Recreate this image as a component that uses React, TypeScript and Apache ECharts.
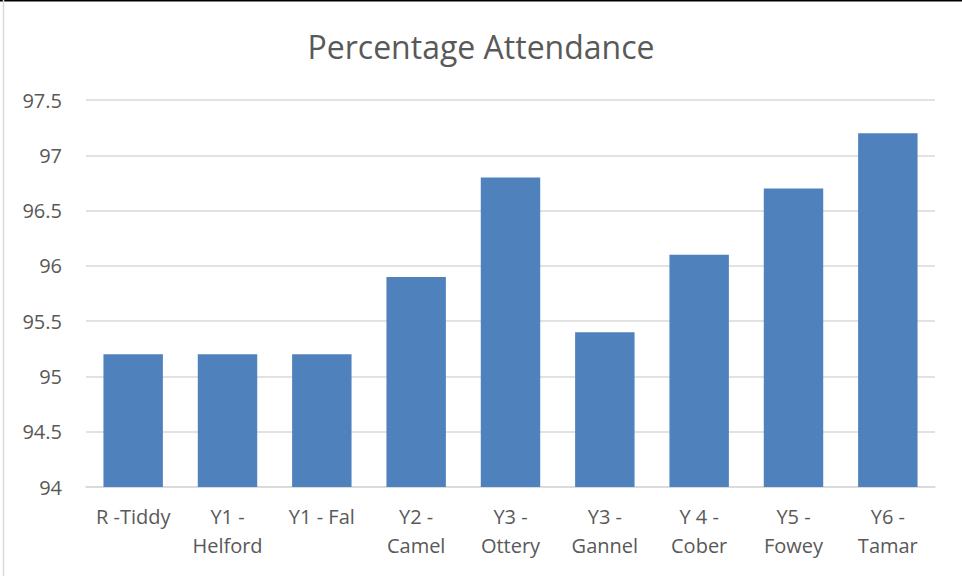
import React, { useEffect, useRef } from "react";
import * as echarts from "echarts";

const categories = [
  "R -Tiddy",
  "Y1 - Helford",
  "Y1 - Fal",
  "Y2 - Camel",
  "Y3 - Ottery",
  "Y3 - Gannel",
  "Y 4 - Cober",
  "Y5 - Fowey",
  "Y6 - Tamar",
];
const attendance = [95.2, 95.2, 95.2, 95.9, 96.8, 95.4, 96.1, 96.7, 97.2];
const yMin = 94;
const yMax = 97.5;
const yStep = 0.5;

export default function App() {
  const ref = useRef<HTMLDivElement>(null);
  useEffect(() => {
    if (!ref.current) return;
    const chart = echarts.init(ref.current, undefined, { renderer: "svg" });
    const font = "'Open Sans', 'Liberation Sans', sans-serif";
    chart.setOption({
      animation: false,
      backgroundColor: "#ffffff",
      title: {
        text: "Percentage Attendance",
        left: "center",
        top: 25,
        textStyle: { fontFamily: font, fontSize: 32, fontWeight: "normal", color: "#595959" },
      },
      grid: { left: 86, right: 27, top: 100, bottom: 89, containLabel: false },
      xAxis: {
        type: "category",
        data: categories,
        axisLine: { lineStyle: { color: "#D9D9D9", width: 1.5 } },
        axisTick: { show: false },
        axisLabel: {
          interval: 0,
          margin: 15,
          fontFamily: font,
          fontSize: 20,
          lineHeight: 29,
          color: "#595959",
          formatter: (v: string) => (v.length > 8 ? v.replace("- ", "-\n") : v),
        },
      },
      yAxis: {
        type: "value",
        min: yMin,
        max: yMax,
        interval: yStep,
        axisLine: { show: false },
        axisTick: { show: false },
        splitLine: { lineStyle: { color: "#D9D9D9", width: 1.5 } },
        axisLabel: {
          margin: 24,
          fontFamily: font,
          fontSize: 20,
          color: "#595959",
          formatter: (v: number) => String(v),
        },
      },
      series: [
        {
          type: "bar",
          data: attendance,
          barCategoryGap: "37%",
          itemStyle: { color: "#4F81BD" },
        },
      ],
      graphic: [
        { type: "line", shape: { x1: 0, y1: 0.5, x2: 962, y2: 0.5 }, style: { stroke: "#000000", lineWidth: 2 } },
        { type: "line", shape: { x1: 3.5, y1: 0, x2: 3.5, y2: 576 }, style: { stroke: "#D9D9D9", lineWidth: 1.5 } },
      ],
    });
    return () => chart.dispose();
  }, []);
  return (
    <div
      ref={ref}
      style={{ position: "fixed", left: 0, top: 0, width: 962, height: 576 }}
    />
  );
}
